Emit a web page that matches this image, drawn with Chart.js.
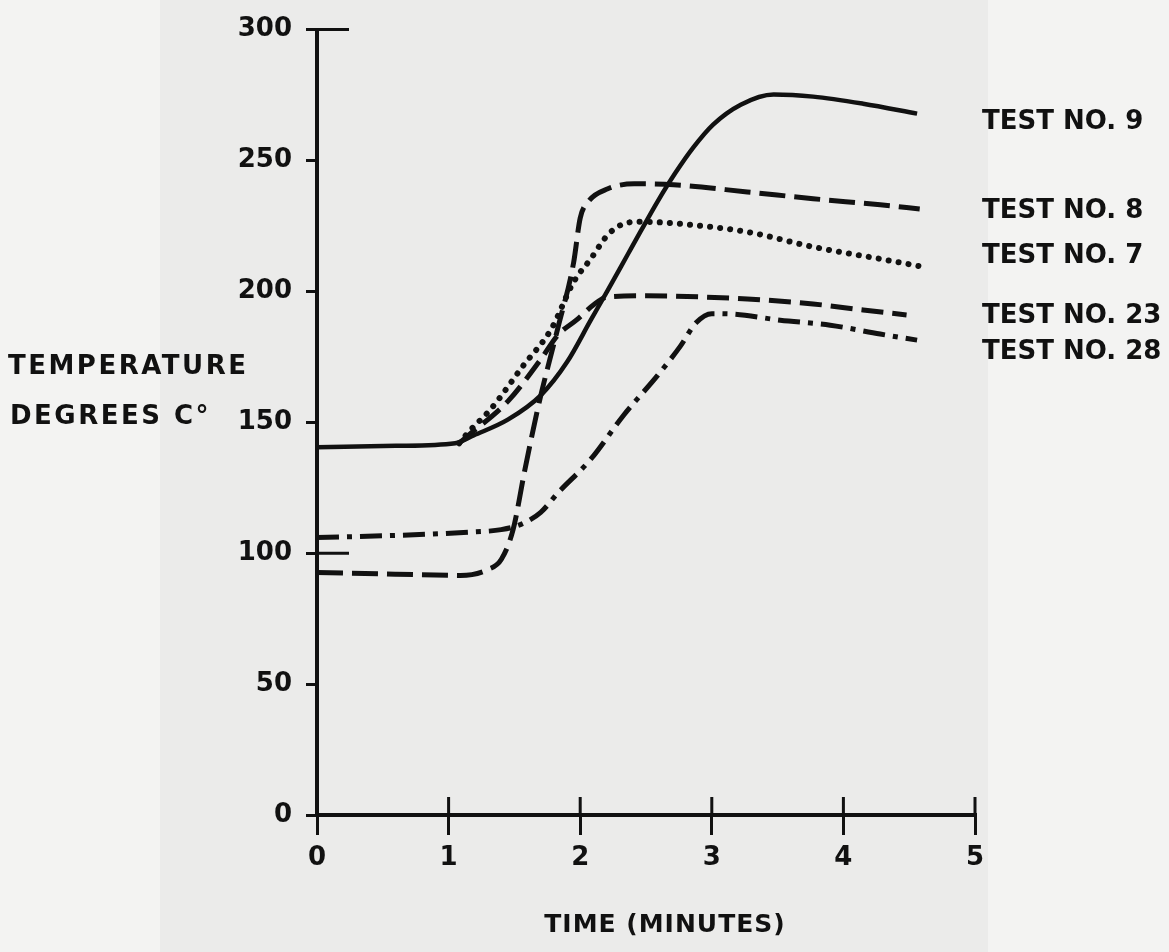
<!DOCTYPE html>
<html>
<head>
<meta charset="utf-8">
<title>Temperature vs time</title>
<script src="https://cdn.jsdelivr.net/npm/chart.js@4.4.1/dist/chart.umd.min.js"></script>
<style>
  html, body { margin: 0; padding: 0; background: #f2f2f1; }
  #wrap { width: 1169px; height: 952px; }
</style>
</head>
<body>
<div id="wrap"><canvas id="chart" width="1169" height="952"></canvas></div>
<script>
(function() {
  'use strict';

  // --- data (time in minutes, temperature in deg C) ---
  const test9Time = [0, 0.6, 1.05, 1.19, 1.45, 1.70, 1.90, 2.08, 2.21, 2.36, 2.46, 2.59, 2.72, 2.86, 3.01, 3.22, 3.47, 3.77, 4.15, 4.56];
  const test9Temp = [140.5, 141, 142, 145, 151, 160.3, 173, 189, 200.5, 214, 223, 234.5, 245, 255, 263.7, 271.3, 275.2, 274.4, 271.7, 267.9];

  const test8Time = [0, 0.6, 1.09, 1.30, 1.40, 1.49, 1.58, 1.69, 1.83, 1.95, 2.00, 2.06, 2.21, 2.41, 2.71, 3.27, 3.77, 4.28, 4.58];
  const test8Temp = [92.6, 92, 91.5, 93.8, 97.6, 109, 132, 158, 186, 211, 228, 234.2, 239.2, 241.1, 240.7, 238, 235.4, 233.1, 231.5];

  const test7Time = [1.08, 1.15, 1.32, 1.57, 1.78, 1.95, 2.08, 2.21, 2.33, 2.46, 2.76, 3.27, 3.77, 4.28, 4.57];
  const test7Temp = [142, 146.2, 155, 171.8, 185.6, 203.6, 212.4, 221.6, 225.8, 226.6, 225.8, 222.7, 217, 212.4, 209.7];

  const test23Time = [1.08, 1.15, 1.45, 1.70, 1.83, 1.98, 2.10, 2.21, 2.50, 2.91, 3.27, 3.77, 4.15, 4.48];
  const test23Temp = [142, 145, 158, 174, 183.3, 189.4, 194.8, 197.9, 198.3, 197.9, 197.1, 195.2, 192.9, 191];

  const test28Time = [0, 0.6, 1.15, 1.40, 1.55, 1.70, 1.83, 2.08, 2.33, 2.59, 2.76, 2.88, 3.00, 3.14, 3.52, 3.90, 4.28, 4.56];
  const test28Temp = [106, 106.8, 108, 109, 111, 115.6, 123, 135.9, 152.7, 168, 179, 188, 191.5, 191.4, 189, 187.1, 183.7, 181.4];

  const seriesNames = ['TEST NO. 9', 'TEST NO. 8', 'TEST NO. 7', 'TEST NO. 23', 'TEST NO. 28'];
  const xTickValues = [0, 1, 2, 3, 4, 5];
  const yTickValues = [0, 50, 100, 150, 200, 250, 300];
  const crossYTicks = [300, 100];   // these two marks run through the axis

  const INK = '#111111';
  const FONT = '"DejaVu Sans", "Liberation Sans", sans-serif';

  function pts(xs, ys) {
    return xs.map((v, i) => ({ x: v, y: ys[i] }));
  }

  function series(name, xs, ys, dash, width, cap) {
    return {
      label: name,
      data: pts(xs, ys),
      borderColor: INK,
      borderWidth: width,
      borderDash: dash,
      borderCapStyle: cap || 'butt',
      pointRadius: 0,
      fill: false,
      cubicInterpolationMode: 'monotone'
    };
  }

  // --- extra ink: paper, ticks across the axes, labels and titles ---
  const inkPlugin = {
    id: 'ink',
    beforeDraw(chart) {
      const c = chart.ctx;
      c.save();
      c.fillStyle = '#f3f3f2';
      c.fillRect(0, 0, chart.width, chart.height);
      c.fillStyle = '#ebebea';
      c.fillRect(160, 0, 828, chart.height);
      c.restore();
    },
    afterDraw(chart) {
      const c = chart.ctx;
      const sx = chart.scales.x, sy = chart.scales.y;
      const y0 = sy.getPixelForValue(0);
      const x0 = sx.getPixelForValue(0);
      c.save();
      c.strokeStyle = INK;
      c.lineWidth = 3;
      c.beginPath();
      xTickValues.forEach(v => {
        const px = sx.getPixelForValue(v);
        c.moveTo(px, y0 - 18);
        c.lineTo(px, y0);
      });
      crossYTicks.forEach(v => {
        const py = sy.getPixelForValue(v);
        c.moveTo(x0, py);
        c.lineTo(x0 + 32, py);
      });
      c.stroke();

      c.fillStyle = INK;
      c.textBaseline = 'middle';
      c.textAlign = 'left';
      c.font = 'bold 26px ' + FONT;
      const labelY = [122, 211, 256, 316, 352];
      seriesNames.forEach((n, i) => c.fillText(n, 982, labelY[i]));
      c.letterSpacing = '2.5px';
      c.fillText('TEMPERATURE', 8, 367);
      c.fillText('DEGREES C\u00B0', 10, 417);
      c.letterSpacing = '1px';
      c.font = 'bold 25px ' + FONT;
      c.textAlign = 'center';
      c.fillText('TIME (MINUTES)', 665, 925);
      c.restore();
    }
  };

  const tickFont = { family: FONT, size: 26, weight: 'bold' };

  new Chart(document.getElementById('chart'), {
    type: 'line',
    data: {
      datasets: [
        series(seriesNames[0], test9Time, test9Temp, [], 4.5),
        series(seriesNames[1], test8Time, test8Temp, [26, 9], 5),
        series(seriesNames[2], test7Time, test7Temp, [0.1, 10], 6, 'round'),
        series(seriesNames[3], test23Time, test23Temp, [22, 9], 5),
        series(seriesNames[4], test28Time, test28Temp, [22, 8, 5, 8], 5)
      ]
    },
    options: {
      responsive: false,
      animation: false,
      layout: { padding: { top: 28, right: 194, bottom: 0, left: 0 } },
      plugins: {
        legend: { display: false },
        tooltip: { enabled: false }
      },
      scales: {
        x: {
          type: 'linear',
          min: 0,
          max: 5,
          afterFit: s => { s.height = 137; },
          afterBuildTicks: s => { s.ticks = xTickValues.map(v => ({ value: v })); },
          border: { color: INK, width: 4 },
          grid: { drawOnChartArea: false, drawTicks: true, tickLength: 20, color: INK, lineWidth: 3 },
          ticks: { color: INK, font: tickFont, padding: 8, maxRotation: 0 }
        },
        y: {
          min: 0,
          max: 300,
          afterFit: s => { s.width = 317; },
          afterBuildTicks: s => { s.ticks = yTickValues.map(v => ({ value: v })); },
          border: { color: INK, width: 4 },
          grid: { drawOnChartArea: false, drawTicks: true, tickLength: 11, color: INK, lineWidth: 3 },
          ticks: { color: INK, font: tickFont, padding: 14 }
        }
      }
    },
    plugins: [inkPlugin]
  });
})();
</script>
</body>
</html>
